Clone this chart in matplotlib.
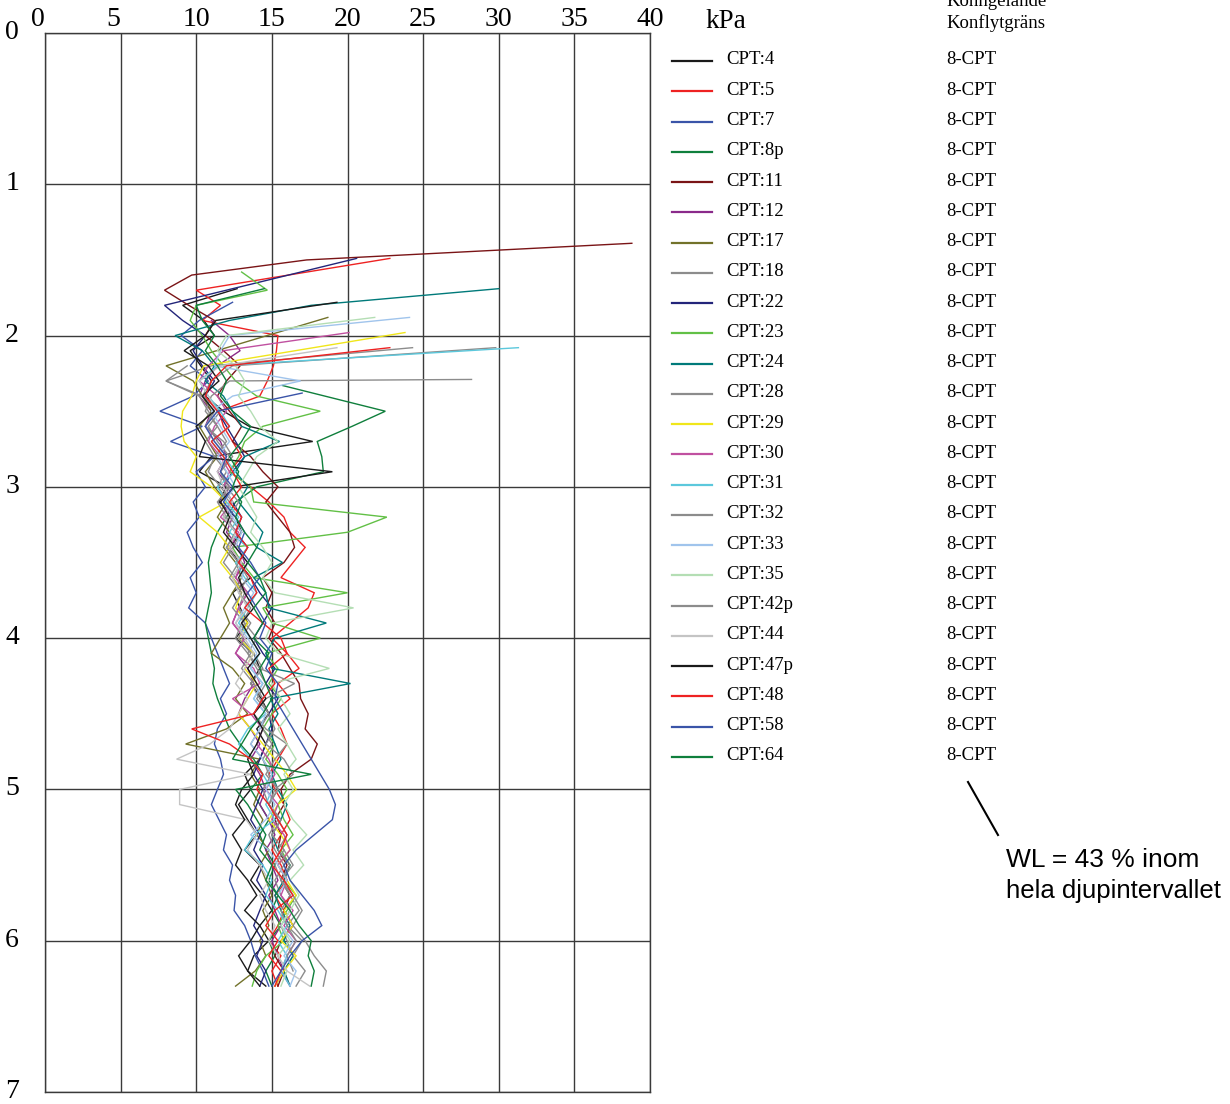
import numpy as np
import matplotlib
matplotlib.use("Agg")
import matplotlib.pyplot as plt
from matplotlib.lines import Line2D

# ---------------------------------------------------------------
# Cone penetration tests: undrained shear strength (kPa) vs depth (m)
# Each sounding: first reading (depth, kPa), then readings every 0.1 m
# starting at grid_start.
# ---------------------------------------------------------------
names = ["CPT:4", "CPT:5", "CPT:7", "CPT:8p", "CPT:11", "CPT:12", "CPT:17",
         "CPT:18", "CPT:22", "CPT:23", "CPT:24", "CPT:28", "CPT:29", "CPT:30",
         "CPT:31", "CPT:32", "CPT:33", "CPT:35", "CPT:42p", "CPT:44",
         "CPT:47p", "CPT:48", "CPT:58", "CPT:64"]

colors = ["#1a1a1a", "#ee2222", "#3a54a8", "#0f7f3c", "#7a1416", "#8a2a8a",
          "#72722a", "#8c8c8c", "#23257a", "#62c046", "#007a7a", "#8c8c8c",
          "#f0e61a", "#c050a0", "#5cc8dc", "#8c8c8c", "#a0c4ec", "#b4deb4",
          "#8c8c8c", "#c4c4c4", "#1a1a1a", "#ee2222", "#3a54a8", "#0f7f3c"]

top_depth = [1.69, 1.49, 1.78, 2.33, 1.39, 1.90, 1.88, 2.08, 1.49, 1.58, 1.69, 2.08,
             1.98, 1.98, 2.08, 2.29, 1.88, 1.88, 2.20, 2.08, 1.78, 2.08, 2.38, 1.69]
top_kpa = [12.7, 22.8, 12.4, 15.7, 38.8, 11.0, 18.7, 24.3, 20.6, 13.0, 30.0, 29.8,
           23.8, 20.1, 31.3, 28.2, 24.1, 21.8, 9.4, 19.3, 19.3, 22.8, 17.0, 14.5]
grid_start = [1.8, 1.7, 1.9, 2.5, 1.5, 2.0, 2.2, 2.2, 1.8, 1.7, 1.8, 2.2,
              2.2, 2.1, 2.2, 2.3, 2.0, 2.0, 2.3, 2.2, 1.9, 2.2, 2.5, 1.8]

cpt_4 = [9.1, 10.5, 11.2, 9.6, 10.3, 11.0, 10.6, 11.8, 13.5,
         17.7, 11.0, 10.2, 12.0, 11.5, 12.6, 13.0, 12.2, 12.8, 13.6,
         12.4, 12.9, 13.4, 12.6, 13.8, 14.2, 13.6, 14.3, 14.8, 14.0,
         14.6, 14.2, 13.2, 13.6, 12.8, 13.4, 14.0, 13.2, 14.2, 13.6,
         14.4, 15.0, 14.2, 14.8, 13.8, 13.4, 14.6]
cpt_5 = [10.0, 11.6, 10.4, 15.4, 15.3, 15.1, 14.7, 14.2,
         11.5, 11.8, 12.4, 13.0, 12.2, 13.6, 14.8, 15.8, 16.2, 17.2,
         16.4, 15.6, 17.8, 17.4, 16.2, 15.0, 16.0, 16.8, 15.4, 16.2,
         15.0, 15.6, 16.0, 15.4, 14.8, 15.2, 15.8, 16.2, 15.6, 15.0,
         15.6, 16.0, 15.2, 15.8, 15.4, 14.8, 15.6, 15.0, 15.4]
cpt_7 = [10.2, 9.0, 10.4, 9.6, 10.8, 9.8, 7.6, 10.4, 8.3,
         11.2, 10.0, 10.6, 9.8, 10.2, 9.4, 9.8, 10.4, 9.6, 10.0,
         9.5, 10.6, 11.0, 11.4, 11.8, 12.2, 11.6, 12.0, 11.4, 11.2,
         11.6, 11.8, 11.4, 11.0, 11.5, 12.0, 11.8, 12.4, 12.2, 12.6,
         12.5, 13.2, 13.6, 13.9, 14.4, 14.8]
cpt_8p = [22.5, 20.3, 18.0, 18.3, 18.4, 14.0, 12.6, 12.0,
          11.4, 11.0, 10.8, 10.9, 11.0, 10.8, 10.6, 10.8, 11.0, 11.2,
          11.1, 11.4, 11.8, 12.2, 12.9, 13.8, 14.4, 13.6, 14.2, 14.8,
          14.2, 14.6, 15.2, 14.8, 15.4, 15.0, 15.6, 14.8, 15.2, 14.6,
          15.0]
cpt_11 = [17.3, 9.7, 7.9, 9.5, 11.2, 10.6, 11.8, 12.9, 12.0,
          11.4, 12.2, 13.0, 12.4, 13.6, 14.4, 15.4, 14.6, 15.4, 16.2,
          16.5, 15.8, 14.4, 15.0, 14.6, 15.2, 14.8, 15.6, 16.2, 16.8,
          16.9, 17.4, 17.2, 18.0, 17.6, 16.2, 15.6, 15.8, 15.2, 15.6,
          15.4, 16.0, 15.6, 16.2, 15.8, 16.4, 15.6, 15.2, 15.8, 15.4]
cpt_12 = [12.2, 12.9, 11.4, 10.6, 10.2, 11.0, 10.6, 11.6, 12.0,
          11.4, 12.2, 11.6, 12.4, 12.0, 12.8, 13.2, 12.6, 13.4, 12.8,
          12.4, 13.2, 12.6, 13.4, 13.8, 13.2, 12.8, 13.6, 14.2, 13.6,
          14.2, 14.6, 14.2, 14.8, 15.2, 14.6, 15.0, 15.4, 14.8, 15.2,
          15.6, 15.0, 15.4, 15.8, 15.2]
cpt_17 = [8.0, 9.8, 10.4, 11.0, 10.2, 10.8, 11.4,
          10.6, 11.2, 12.0, 11.4, 12.2, 11.8, 12.6, 13.0, 12.4, 11.8,
          12.2, 11.6, 11.0, 12.4, 13.2, 12.6, 13.4, 12.0, 9.3, 14.2,
          13.6, 14.2, 13.8, 14.4, 14.0, 14.8, 14.2, 14.6, 15.0, 14.4,
          14.8, 14.2, 14.6, 13.9, 12.6]
cpt_18 = [11.0, 8.0, 10.2, 10.8, 11.4, 10.6, 11.2, 12.0, 11.4,
          12.2, 11.8, 12.6, 12.2, 13.0, 12.4, 13.2, 12.8, 13.6, 13.0,
          13.8, 14.4, 13.6, 14.2, 14.8, 14.2, 13.6, 14.4, 15.0, 14.4,
          14.8, 15.4, 14.8, 15.2, 15.8, 15.2, 15.6, 16.2, 15.6, 16.0,
          16.4, 15.8, 16.2]
cpt_22 = [7.9, 9.1, 10.6, 9.8, 10.4, 11.2, 10.6,
          11.4, 12.0, 12.6, 13.2, 12.4, 11.8, 12.4, 13.0, 12.6, 13.4,
          12.8, 13.6, 14.2, 15.0, 14.4, 13.8, 14.4, 15.2, 14.6, 15.4,
          14.8, 15.0, 14.6, 14.2, 13.8, 14.4, 14.0, 13.6, 14.2, 13.8,
          14.4, 14.0, 14.6, 14.2, 13.8, 14.4, 14.0, 14.6, 14.2]
cpt_23 = [14.7, 10.0, 9.6, 10.4, 11.0, 11.8, 12.6, 14.0, 18.2, 14.4,
          13.2, 12.8, 12.2, 13.6, 13.8, 22.6, 20.0, 12.4, 13.0, 13.8,
          20.0, 14.4, 15.0, 18.2, 14.6, 15.4, 14.8, 15.6, 15.0, 14.4,
          15.2, 14.6, 15.4, 16.0, 15.4, 15.8, 16.4, 15.6, 16.2, 15.8,
          16.6, 16.0, 15.4, 15.8, 14.6, 14.0, 13.7]
cpt_24 = [17.6, 12.2, 8.6, 10.4, 11.2, 10.6, 11.8, 12.4, 13.0, 15.5,
          13.2, 12.6, 13.4, 12.8, 13.6, 14.4, 14.0, 15.7, 13.8, 14.6,
          14.8, 18.6, 15.2, 14.6, 15.0, 20.2, 14.9, 15.4, 14.8, 15.2,
          15.6, 15.0, 15.4, 16.0, 15.6, 15.0, 15.4, 16.2, 15.8, 15.2,
          15.6, 16.2, 15.8, 16.4, 15.8, 16.2]
cpt_28 = [12.4, 11.0, 10.4, 11.6, 10.8, 11.4, 12.2, 11.6, 12.0,
          12.8, 12.2, 13.0, 12.4, 11.8, 12.6, 13.4, 12.8, 13.2, 14.0,
          13.4, 14.2, 16.5, 14.6, 13.8, 14.4, 15.0, 14.4, 14.8, 15.4,
          14.8, 15.6, 15.0, 15.8, 16.4, 15.6, 16.2, 16.8, 16.0, 17.0,
          16.4, 17.2, 16.6]
cpt_29 = [10.5, 10.0, 9.7, 9.1, 9.0, 9.2, 10.0, 9.6, 11.0, 12.0,
          10.2, 11.4, 12.2, 11.6, 12.4, 13.0, 12.6, 13.4, 12.8, 13.8,
          13.2, 14.0, 13.4, 12.8, 13.6, 14.4, 15.2, 16.0, 16.6, 15.4,
          14.8, 15.6, 16.2, 15.4, 16.0, 16.6, 15.8, 16.4, 15.6, 16.6,
          15.8, 15.2]
cpt_30 = [11.8, 10.8, 10.2, 11.4, 12.0, 11.2, 10.8, 11.6, 12.2,
          11.8, 12.4, 11.6, 12.8, 12.2, 13.0, 12.6, 13.4, 12.8, 12.4,
          13.2, 12.6, 13.8, 14.2, 12.4, 13.6, 14.4, 14.0, 14.8, 15.2,
          14.6, 15.4, 15.0, 15.8, 16.2, 15.4, 16.0, 15.6, 16.4, 15.8,
          16.6, 16.0, 15.6, 16.2]
cpt_31 = [11.4, 10.2, 10.8, 11.6, 12.2, 11.0, 11.8, 12.6, 11.4, 12.0,
          12.8, 12.2, 13.4, 12.6, 13.2, 14.0, 13.4, 12.8, 13.6, 14.2,
          13.6, 14.4, 13.8, 14.6, 13.4, 12.8, 13.6, 14.4, 15.0, 14.6,
          15.2, 13.8, 13.2, 14.4, 15.0, 14.6, 15.4, 16.0, 15.4, 16.0,
          15.6, 16.2]
cpt_32 = [12.2, 11.0, 10.6, 11.4, 12.0, 11.2, 10.8, 11.6, 12.4,
          11.8, 12.6, 12.0, 12.8, 12.2, 13.0, 12.4, 13.2, 12.8, 13.6,
          13.0, 13.8, 14.4, 13.8, 14.6, 16.0, 15.2, 14.6, 15.4, 14.8,
          15.6, 15.0, 15.8, 15.2, 15.6, 16.2, 15.6, 16.0, 16.6, 16.0,
          16.4]
cpt_33 = [12.2, 11.6, 11.2, 16.9, 12.4, 11.0, 11.6, 12.2, 11.4, 12.0,
          12.6, 11.8, 12.4, 13.0, 12.6, 13.4, 13.0, 13.8, 13.2, 12.6,
          13.4, 14.0, 13.6, 14.4, 13.8, 14.6, 14.2, 13.6, 14.4, 15.0,
          14.6, 15.2, 14.6, 13.6, 14.8, 15.4, 16.0, 15.4, 16.2, 15.6,
          16.4, 15.8, 16.6, 16.2]
cpt_35 = [12.0, 11.4, 12.6, 13.2, 12.8, 13.6, 14.2, 15.4, 14.0, 13.4,
          12.8, 13.4, 14.0, 13.6, 14.4, 15.0, 14.4, 15.2, 20.4, 15.0,
          14.6, 15.4, 18.8, 15.0, 15.6, 16.2, 15.4, 16.0, 16.6, 15.8,
          16.4, 15.8, 16.4, 17.3, 16.4, 17.1, 16.2, 16.8, 16.2, 15.6,
          16.2, 15.4, 16.0, 15.6]
cpt_42p = [8.0, 10.4, 11.2, 10.6, 11.8, 12.4, 11.6, 12.2, 11.4,
           12.0, 12.6, 12.0, 12.8, 13.4, 12.8, 13.6, 13.0, 12.6, 13.4,
           14.0, 14.6, 14.0, 14.8, 15.2, 14.6, 15.8, 16.4, 15.2, 14.8,
           15.4, 16.0, 15.4, 16.2, 15.6, 16.4, 17.0, 16.4, 17.2, 17.8,
           18.6, 18.4]
cpt_44 = [11.6, 10.2, 10.8, 11.4, 10.6, 11.2, 12.0, 11.4, 11.8,
          12.4, 11.8, 12.6, 12.2, 13.0, 12.4, 12.8, 13.4, 12.6, 13.2,
          13.8, 13.2, 12.6, 13.4, 12.8, 12.2, 10.9, 8.7, 13.6, 8.9,
          8.9, 13.3, 14.0, 13.4, 14.2, 14.8, 14.2, 14.6, 15.2, 14.8,
          15.4, 16.0, 17.5]
cpt_47p = [11.3, 10.6, 9.2, 10.8, 11.5, 10.4, 11.2, 10.0, 10.6,
           10.2, 19.0, 12.5, 11.6, 12.2, 11.8, 12.6, 13.4, 12.8, 13.2,
           13.8, 13.0, 13.6, 14.2, 13.4, 14.0, 14.6, 13.8, 14.4, 14.0,
           13.4, 13.8, 13.0, 12.6, 13.2, 12.4, 13.0, 12.6, 13.4, 14.0,
           13.2, 14.2, 13.6, 12.8, 13.4, 14.2]
cpt_48 = [12.0, 11.0, 10.6, 11.4, 12.2, 11.0, 11.8, 12.4, 13.0,
          12.2, 13.0, 12.6, 13.4, 12.8, 13.6, 14.0, 13.2, 14.4, 15.6,
          16.0, 14.8, 15.2, 14.4, 13.8, 9.7, 12.2, 13.6, 14.4, 14.0,
          14.8, 15.4, 16.0, 15.6, 15.0, 15.8, 16.4, 15.2, 14.6, 15.4,
          14.8, 15.6, 15.2]
cpt_58 = [11.4, 10.6, 11.2, 12.0, 11.6, 12.4, 11.8, 12.6, 13.2,
          12.8, 13.6, 14.2, 13.4, 14.0, 14.6, 14.2, 15.0, 14.6, 15.4,
          15.2, 15.8, 16.4, 17.0, 17.6, 18.2, 18.8, 19.2, 19.0, 17.8,
          16.6, 15.8, 16.2, 17.0, 17.8, 18.3, 17.0, 16.2, 15.6, 15.0]
cpt_64 = [10.0, 10.4, 11.2, 10.6, 11.4, 12.0, 11.6, 12.4, 13.6,
          13.0, 12.2, 12.8, 12.4, 13.0, 12.6, 13.2, 14.0, 13.4, 14.2,
          14.6, 13.8, 14.4, 13.8, 14.8, 14.2, 14.6, 15.0, 14.4, 13.6,
          13.0, 12.4, 17.6, 12.6, 13.4, 14.0, 14.6, 14.2, 15.0, 14.6,
          15.4, 16.2, 16.8, 17.6, 17.4, 17.8, 17.6]

profiles = [cpt_4, cpt_5, cpt_7, cpt_8p, cpt_11, cpt_12, cpt_17, cpt_18, cpt_22,
            cpt_23, cpt_24, cpt_28, cpt_29, cpt_30, cpt_31, cpt_32, cpt_33,
            cpt_35, cpt_42p, cpt_44, cpt_47p, cpt_48, cpt_58, cpt_64]

x_ticks = [0, 5, 10, 15, 20, 25, 30, 35, 40]
y_ticks = [0, 1, 2, 3, 4, 5, 6, 7]
method = "8-CPT"

# ---------------------------------------------------------------
W, H = 1230, 1104
fig = plt.figure(figsize=(W / 100, H / 100), dpi=100)
serif = ["Liberation Serif", "DejaVu Serif"]

ax = fig.add_axes([45 / W, 1 - 1092 / H, (650 - 45) / W, (1092 - 33) / H])
ax.set_xlim(0, 40)
ax.set_ylim(7, 0)
ax.set_xticks(x_ticks)
ax.set_yticks(y_ticks)
ax.set_yticklabels([])
ax.xaxis.tick_top()
ax.tick_params(axis="both", length=0, labelsize=20)
ax.tick_params(axis="x", pad=0.5)
for lab in ax.get_xticklabels():
    lab.set_fontfamily(serif)
    # single-digit labels sit just left of their grid line
    if len(lab.get_text()) == 1:
        lab.set_horizontalalignment("right")
ax.grid(True, color="#3a3a3a", linewidth=1.0)
for sp in ax.spines.values():
    sp.set_color("#3a3a3a")
    sp.set_linewidth(1.0)

for name, col, td, tv, gs, vals in zip(names, colors, top_depth, top_kpa,
                                       grid_start, profiles):
    depth = np.concatenate([[td], gs + 0.1 * np.arange(len(vals))])
    kpa = np.concatenate([[tv], vals])
    ax.plot(kpa, depth, color=col, linewidth=1.0, solid_joinstyle="miter")

# ---------------------------------------------------------------
# Legend and annotations drawn in pixel coordinates
lax = fig.add_axes([0, 0, 1, 1])
lax.set_xlim(0, W)
lax.set_ylim(H, 0)
lax.axis("off")

# depth labels, placed from the depth axis scale
for t in y_ticks:
    y_px = H - ax.transData.transform((0, t))[1]
    lax.text(19, y_px + 6, str(t), fontsize=20, family=serif,
             ha="right", va="baseline")

lax.text(705, 21, "kPa", fontsize=19.5, family=serif, va="center", ha="left")
lax.text(946, 23, "Konflytgräns", fontsize=13.5, family=serif, va="center", ha="left")
lax.text(946, 1, "Konngelande", fontsize=13.5, family=serif, va="center", ha="left")

row0, dy = 60, 30.26
for i, (name, col) in enumerate(zip(names, colors)):
    y = row0 + dy * i
    lax.add_line(Line2D([672, 712], [y + 1, y + 1], color=col, linewidth=1.6))
    lax.text(726, y, name, fontsize=13.5, family=serif, va="center", ha="left")
    lax.text(946, y, method, fontsize=13.5, family=serif, va="center", ha="left")

lax.add_line(Line2D([968, 998], [782, 835], color="black", linewidth=1.5))
lax.text(1006, 860, "WL = 43 % inom", fontsize=19, family="Liberation Sans",
         va="center", ha="left")
lax.text(1006, 891, "hela djupintervallet", fontsize=18.5, family="Liberation Sans",
         va="center", ha="left")

fig.savefig("out.png", dpi=100)
